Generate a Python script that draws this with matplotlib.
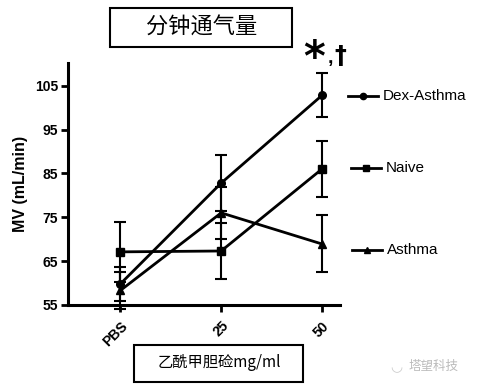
import matplotlib.pyplot as plt
from matplotlib.lines import Line2D
from matplotlib.patches import Rectangle

plt.rcParams['font.family'] = ['Liberation Sans', 'Noto Sans CJK SC', 'DejaVu Sans']

# data
doses = ['PBS', '25', '50']
dex_mean = [59.8, 82.8, 102.8]
dex_err = [3.9, 6.3, 5.0]
naive_mean = [67.1, 67.3, 86.0]
naive_err = [6.8, 6.3, 6.3]
asthma_mean = [58.3, 76.0, 68.9]
asthma_err = [4.3, 6.0, 6.5]
yticks = [55, 65, 75, 85, 95, 105]

series = [
    ('Dex-Asthma', dex_mean, dex_err, 'o'),
    ('Naive', naive_mean, naive_err, 's'),
    ('Asthma', asthma_mean, asthma_err, '^'),
]

fig = plt.figure(figsize=(4.79, 3.84), dpi=100)
ax = fig.add_axes([0.142, 0.206, 0.568, 0.630])

x = list(range(len(doses)))
for name, m, e, mk in series:
    ax.errorbar(x, m, yerr=e, color='black', lw=2, marker=mk, ms=5.5,
                capsize=4, elinewidth=1.5, capthick=1.5, clip_on=False, zorder=3)

ax.set_xlim(-0.52, 2.18)
ax.set_ylim(55, 110.2)
ax.set_yticks(yticks)
ax.set_xticks(x)
ax.set_xticklabels(doses, rotation=45, fontweight='bold', fontsize=10,
                   ha='right', rotation_mode='anchor')
for t in ax.get_yticklabels():
    t.set_fontweight('bold')
    t.set_fontsize(10)
ax.spines['top'].set_visible(False)
ax.spines['right'].set_visible(False)
for s in ['left', 'bottom']:
    ax.spines[s].set_linewidth(2.2)
ax.tick_params(width=2, length=5, pad=2)
ax.tick_params(axis='x', pad=5)
ax.set_ylabel('MV (mL/min)', fontweight='bold', fontsize=11.5, labelpad=5)

# significance mark
fig.text(0.656, 0.846, '*', fontsize=30, fontweight='bold', ha='center', va='center',
         family=['DejaVu Sans'])
fig.text(0.683, 0.835, ',', fontsize=14, fontweight='bold', ha='left', va='baseline')
fig.text(0.699, 0.835, '\u2020', fontsize=17, fontweight='bold', ha='left', va='baseline',
         family=['DejaVu Sans'])

# legend entries next to the line ends
leg_y = [0.750, 0.562, 0.348]
leg_x0 = [0.727, 0.733, 0.735]
for (name, m, e, mk), yy, x0 in zip(series, leg_y, leg_x0):
    fig.add_artist(Line2D([x0, x0 + 0.062], [yy, yy], color='black', lw=2,
                          transform=fig.transFigure))
    fig.add_artist(Line2D([x0 + 0.031], [yy], color='black', marker=mk, ms=4.5,
                          transform=fig.transFigure))
    fig.text(x0 + 0.072, yy, name, fontsize=11, va='center', ha='left')

# title box
fig.add_artist(Rectangle((0.230, 0.878), 0.380, 0.100, transform=fig.transFigure,
                         fill=False, lw=1.5, ec='black'))
fig.text(0.420, 0.928, '分钟通气量', fontsize=16, ha='center', va='center',
         family=['Noto Sans CJK SC'])

# x label box
fig.add_artist(Rectangle((0.280, 0.006), 0.352, 0.095, transform=fig.transFigure,
                         fill=False, lw=1.5, ec='black'))
fig.text(0.457, 0.057, '乙酰甲胆硷mg/ml', fontsize=11, ha='center', va='center',
         family=['Noto Sans CJK SC', 'DejaVu Sans'])

# watermark
fig.text(0.905, 0.045, '塔望科技', fontsize=9, color='#bbbbbb', ha='center', va='center',
         family=['Noto Sans CJK SC'])
fig.text(0.828, 0.045, '\u25e1', fontsize=10, color='#cccccc', ha='center', va='center')

fig.savefig('out.png', dpi=100)
